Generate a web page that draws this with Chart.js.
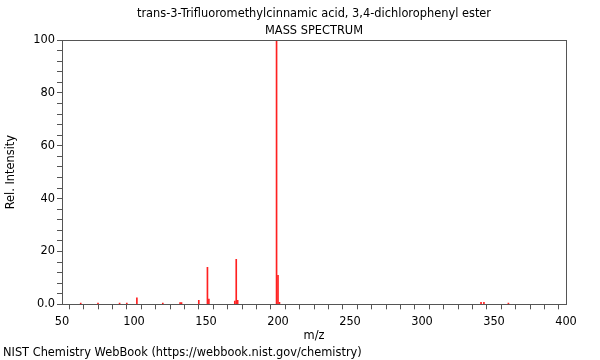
<!DOCTYPE html>
<html>
<head>
<meta charset="utf-8">
<script src="https://cdn.jsdelivr.net/npm/chart.js@4"></script>
<style>
  html, body { margin: 0; padding: 0; background: #fff; }
  #wrap { width: 600px; height: 360px; position: relative; }
</style>
</head>
<body>
<div id="wrap"><canvas id="ms"></canvas></div>
<script>
const compoundName = "trans-3-Trifluoromethylcinnamic acid, 3,4-dichlorophenyl ester";
const sourceNote = "NIST Chemistry WebBook (https://webbook.nist.gov/chemistry)";

// peaks
const mzValues = [63, 75, 90, 95, 102, 120, 132, 133, 145, 151, 152, 170, 171, 172, 199, 200, 201, 341, 343, 360];
const relIntensity = [0.5, 0.5, 0.5, 0.5, 2.5, 0.5, 0.7, 0.7, 1.5, 14, 2, 1.2, 17, 1.5, 100, 11, 0.8, 0.8, 0.8, 0.5];

const xMajorTicks = [50, 100, 150, 200, 250, 300, 350, 400];
const yMajorTicks = [0, 20, 40, 60, 80, 100];

const fontSpec = { family: "DejaVu Sans", size: 11.4, lineHeight: 1.2 };
const frameColor = "#555";

// box round the plot area
const framePlugin = {
    id: "frame",
    afterDraw(chart) {
        const a = chart.chartArea;
        const ctx = chart.ctx;
        ctx.save();
        ctx.strokeStyle = frameColor;
        ctx.lineWidth = 1;
        ctx.strokeRect(Math.round(a.left) + 0.5, Math.round(a.top) + 0.5,
            Math.round(a.right - a.left), Math.round(a.bottom - a.top));
        ctx.restore();
    }
};

// two title lines, centred over the plot area rather than the canvas
const headingPlugin = {
    id: "heading",
    afterDraw(chart) {
        const a = chart.chartArea;
        const ctx = chart.ctx;
        const cx = (a.left + a.right) / 2;
        ctx.save();
        ctx.fillStyle = "#000";
        ctx.font = "11.4px 'DejaVu Sans'";
        ctx.textAlign = "center";
        ctx.textBaseline = "middle";
        ctx.fillText(compoundName, cx, a.top - 26);
        ctx.fillText("MASS SPECTRUM", cx, a.top - 9);
        ctx.restore();
    }
};

function stepTicks(min, max, step) {
    const out = [];
    for (let v = min; v <= max; v += step) out.push({ value: v });
    return out;
}

new Chart(document.getElementById("ms"), {
    type: "bar",
    data: {
        datasets: [{
            data: mzValues.map((m, i) => ({ x: m, y: relIntensity[i] })),
            backgroundColor: "#ff2020",
            borderWidth: 0,
            barThickness: 1
        }]
    },
    options: {
        responsive: true,
        maintainAspectRatio: false,
        animation: false,
        layout: { padding: { left: 3, right: 34, top: 40, bottom: 0 } },
        plugins: {
            legend: { display: false },
            tooltip: { enabled: false },
            title: { display: false },
            subtitle: {
                display: true,
                text: sourceNote,
                position: "bottom",
                align: "start",
                color: "#000",
                font: { family: "DejaVu Sans", size: 11.4, weight: "normal", lineHeight: 1.2 },
                padding: { top: 0, bottom: 0 }
            }
        },
        scales: {
            x: {
                type: "linear",
                min: 50,
                max: 400,
                offset: false,
                afterBuildTicks: s => { s.ticks = stepTicks(50, 400, 10); },
                afterFit: s => { s.height = 42; },
                ticks: {
                    autoSkip: false,
                    maxRotation: 0,
                    color: "#000",
                    font: fontSpec,
                    padding: 6,
                    callback: v => xMajorTicks.includes(v) ? String(v) : ""
                },
                grid: {
                    drawOnChartArea: false,
                    drawTicks: true,
                    tickLength: 5,
                    tickColor: frameColor
                },
                border: { display: false },
                title: {
                    display: true,
                    text: "m/z",
                    color: "#000",
                    font: fontSpec,
                    padding: { top: 0, bottom: 3 }
                }
            },
            y: {
                min: 0,
                max: 100,
                afterBuildTicks: s => { s.ticks = stepTicks(0, 100, 4); },
                afterFit: s => { s.width = 59; },
                ticks: {
                    autoSkip: false,
                    color: "#000",
                    font: fontSpec,
                    padding: 2,
                    callback: v => yMajorTicks.includes(v) ? (v === 0 ? "0.0" : String(v)) : ""
                },
                grid: {
                    drawOnChartArea: false,
                    drawTicks: true,
                    tickLength: 5,
                    tickColor: frameColor
                },
                border: { display: false },
                title: {
                    display: true,
                    text: "Rel. Intensity",
                    color: "#000",
                    font: fontSpec,
                    padding: { top: 1, bottom: 4 }
                }
            }
        }
    },
    plugins: [framePlugin, headingPlugin]
});
</script>
</body>
</html>
